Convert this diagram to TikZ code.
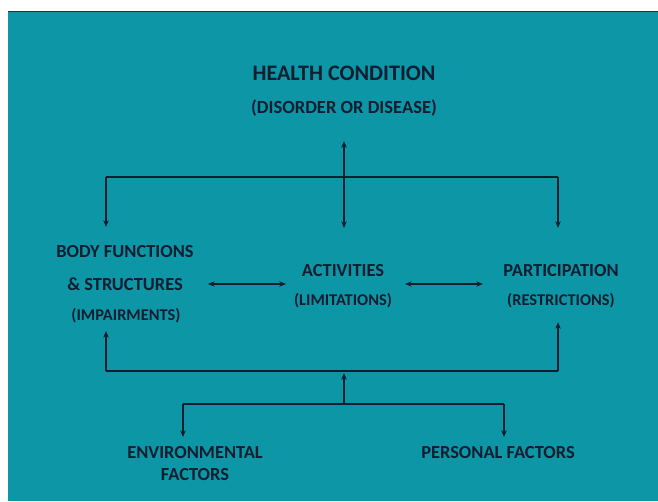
\documentclass[tikz,border=0pt]{standalone}
\usepackage{fontspec}
\setmainfont{Carlito}
\usetikzlibrary{arrows.meta}
\definecolor{teal1}{RGB}{12,150,166}
\definecolor{ink}{RGB}{16,30,48}
\tikzset{
  lbl/.style={text=ink,font=\bfseries\fontsize{13.8}{15}\selectfont,inner sep=0pt,anchor=center},
  sublbl/.style={text=ink,font=\bfseries\fontsize{12.3}{14}\selectfont,inner sep=0pt,anchor=center},
  ttl/.style={text=ink,font=\bfseries\fontsize{16.6}{18}\selectfont,inner sep=0pt,anchor=center},
  subttl/.style={text=ink,font=\bfseries\fontsize{13.9}{16}\selectfont,inner sep=0pt,anchor=center},
  conn/.style={draw=ink,line width=0.9pt},
  arr/.style={conn,-{Stealth[length=5pt,width=4pt]}},
  darr/.style={conn,{Stealth[length=5pt,width=4pt]}-{Stealth[length=5pt,width=4pt]}}
}
\begin{document}
\begin{tikzpicture}[x=0.75pt,y=-0.75pt]
\useasboundingbox (0,0) rectangle (658,501);
\fill[white] (0,0) rectangle (658,501);
\fill[teal1] (8,11) rectangle (658,501);
\draw[draw={rgb,255:red,20;green,60;blue,70},line width=0.8pt] (8,11.5) -- (658,11.5);

\node[ttl] (hc) at (344,73) {HEALTH CONDITION};
\node[subttl] (hcs) at (344,108.5) {(DISORDER OR DISEASE)};

\node[lbl] (bf1) at (125,251.5) {BODY FUNCTIONS};
\node[lbl] (bf2) at (125,284.5) {\& STRUCTURES};
\node[sublbl] (bf3) at (126,315.5) {(IMPAIRMENTS)};

\node[lbl] (ac1) at (343,270.5) {ACTIVITIES};
\node[sublbl] (ac2) at (343,300.5) {(LIMITATIONS)};

\node[lbl] (pa1) at (561,270.5) {PARTICIPATION};
\node[sublbl] (pa2) at (561,300.5) {(RESTRICTIONS)};

\node[lbl] (en1) at (195,452.5) {ENVIRONMENTAL};
\node[lbl] (en2) at (195,474.5) {FACTORS};
\node[lbl] (pf) at (498,452.5) {PERSONAL FACTORS};

% top distribution
\coordinate (ttop) at (344,141);
\coordinate (tbot) at (344,228);
\coordinate (tl) at (106,177);
\coordinate (tr) at (558,177);
\coordinate (tlend) at (106,227);
\coordinate (trend) at (558,228);
\draw[darr] (ttop) -- (tbot);
\draw[conn] (tl) -- (tr);
\draw[arr] (tl) -- (tlend);
\draw[arr] (tr) -- (trend);

% middle arrows
\coordinate (m1a) at (208,284);
\coordinate (m1b) at (286,284);
\coordinate (m2a) at (405,284);
\coordinate (m2b) at (483,284);
\draw[darr] (m1a) -- (m1b);
\draw[darr] (m2a) -- (m2b);

% bottom collection
\coordinate (bl) at (106,371);
\coordinate (br) at (558,371);
\coordinate (blend) at (106,331);
\coordinate (brend) at (558,322);
\draw[conn] (bl) -- (br);
\draw[arr] (bl) -- (blend);
\draw[arr] (br) -- (brend);
\coordinate (bc) at (344,404);
\coordinate (bcend) at (344,373);
\draw[arr] (bc) -- (bcend);
\coordinate (fl) at (183,404);
\coordinate (fr) at (504,404);
\coordinate (flend) at (183,437);
\coordinate (frend) at (504,437);
\draw[conn] (fl) -- (fr);
\draw[arr] (fl) -- (flend);
\draw[arr] (fr) -- (frend);
\end{tikzpicture}
\end{document}
